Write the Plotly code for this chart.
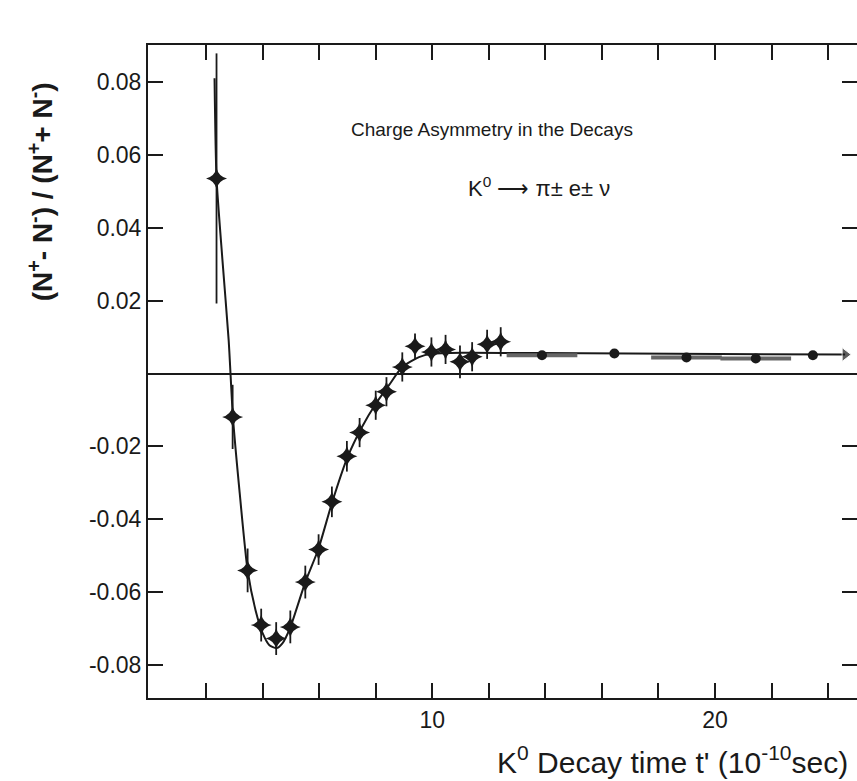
import plotly.graph_objects as go

# ---- data ----
t_pts = [2.37, 2.94, 3.47, 3.95, 4.48, 4.98, 5.51, 5.98, 6.45, 6.98, 7.43,
         8.00, 8.38, 8.94, 9.39, 9.97, 10.47, 10.98, 11.41, 11.94, 12.42]
a_pts = [0.0535, -0.0119, -0.0540, -0.0690, -0.0727, -0.0695, -0.0572, -0.0483,
         -0.0352, -0.0227, -0.0162, -0.0087, -0.0050, 0.0018, 0.0075, 0.0059,
         0.0066, 0.0032, 0.0046, 0.0080, 0.0087]
a_err = [0.0343, 0.0088, 0.0060, 0.0045, 0.0045, 0.0045, 0.0045, 0.0042,
         0.0042, 0.0042, 0.0040, 0.0040, 0.0040, 0.0040, 0.0035, 0.0040,
         0.0040, 0.0045, 0.0040, 0.0040, 0.0040]

t_late = [13.88, 16.44, 18.99, 21.44, 23.46]
a_late = [0.0050, 0.0055, 0.0044, 0.0041, 0.0050]
t_late_bin = [1.25, 0.0, 1.25, 1.25, 0.0]

t_fit = [2.30, 2.37, 2.58, 2.80, 2.95, 3.18, 3.47, 3.75, 4.00, 4.24, 4.49,
         4.70, 4.98, 5.51, 5.97, 6.46, 6.99, 7.49, 8.02, 8.47, 8.93, 9.53,
         9.99, 11.05, 13.76, 24.60]
a_fit = [0.0810, 0.0536, 0.0311, 0.0091, -0.0119, -0.0320, -0.0540, -0.0649,
         -0.0712, -0.0745, -0.0753, -0.0740, -0.0696, -0.0572, -0.0482,
         -0.0353, -0.0232, -0.0150, -0.0081, -0.0032, 0.0017, 0.0045, 0.0054,
         0.0057, 0.0056, 0.0052]

x_ticks = [2, 4, 6, 8, 10, 12, 14, 16, 18, 20, 22, 24]
x_ticktext = ["", "", "", "", "10", "", "", "", "", "20", "", ""]
y_ticks = [0.08, 0.06, 0.04, 0.02, 0.0, -0.02, -0.04, -0.06, -0.08]
y_ticktext = ["0.08", "0.06", "0.04", "0.02", "", "-0.02", "-0.04", "-0.06", "-0.08"]

FONT = "Liberation Sans, Arial, Helvetica, sans-serif"
INK = "#1a1a1a"

fig = go.Figure()

# fit curve with arrow head at the end
n = len(t_fit)
fig.add_trace(go.Scatter(
    x=t_fit, y=a_fit, mode="lines+markers",
    line=dict(color=INK, width=2, shape="spline", smoothing=0.6),
    marker=dict(symbol=["circle"] * (n - 1) + ["triangle-right"],
                size=[0] * (n - 1) + [12], color=INK),
    cliponaxis=False, hoverinfo="skip", showlegend=False))

# late data points with bin bars
fig.add_trace(go.Scatter(
    x=t_late, y=a_late, mode="markers",
    marker=dict(symbol="circle", size=10, color=INK),
    error_x=dict(type="data", array=t_late_bin, color="#666666", thickness=4, width=0),
    showlegend=False))

# early data points
fig.add_trace(go.Scatter(
    x=t_pts, y=a_pts, mode="markers",
    marker=dict(symbol="star-diamond", size=15, color=INK),
    error_y=dict(type="data", array=a_err, color=INK, thickness=1.8, width=0),
    showlegend=False))

fig.update_layout(
    width=859, height=781,
    margin=dict(l=148, r=0, t=45, b=83),
    paper_bgcolor="white", plot_bgcolor="white",
    font=dict(family=FONT, color=INK, size=22),
    xaxis=dict(range=[-0.053, 25.02], tickvals=x_ticks, ticktext=x_ticktext,
               ticks="inside", ticklen=15, tickwidth=1.5, tickcolor=INK,
               showline=True, linecolor=INK, linewidth=2, mirror="ticks",
               showgrid=False, zeroline=False,
               tickfont=dict(family=FONT, size=23)),
    yaxis=dict(range=[-0.0890, 0.0901], tickvals=y_ticks, ticktext=y_ticktext,
               ticks="inside", ticklen=15, tickwidth=1.5, tickcolor=INK,
               showline=True, linecolor=INK, linewidth=2, mirror="ticks",
               showgrid=False, zeroline=True, zerolinecolor=INK, zerolinewidth=2,
               tickfont=dict(family=FONT, size=23)),
)

# paper coords: x = (px - 148) / 711, y = (698 - py) / 653
fig.add_annotation(text="Charge Asymmetry in the Decays", xref="paper", yref="paper",
                   x=0.485, y=0.870, xanchor="center", yanchor="middle", showarrow=False,
                   font=dict(family=FONT, size=19))
fig.add_annotation(text="K<sup>0</sup> \u27f6 \u03c0\u00b1 e\u00b1 \u03bd",
                   xref="paper", yref="paper", x=0.552, y=0.783,
                   xanchor="center", yanchor="middle", showarrow=False,
                   font=dict(family=FONT, size=22))
fig.add_annotation(text="K<sup>0</sup> Decay time t' (10<sup>-10</sup>sec)",
                   xref="paper", yref="paper", x=0.990, y=-0.095,
                   xanchor="right", yanchor="middle", showarrow=False,
                   font=dict(family=FONT, size=30))
fig.add_annotation(text="<b>(N<sup>+</sup>- N<sup>-</sup>) / (N<sup>+</sup>+ N<sup>-</sup>)</b>",
                   xref="paper", yref="paper", x=-0.151, y=0.776, textangle=-90,
                   xanchor="center", yanchor="middle",
                   showarrow=False, font=dict(family=FONT, size=28))

fig.write_html("out.html",
               config={"displayModeBar": False},
               post_script="document.body.style.margin='0';"
                           "document.body.style.overflow='hidden';"
                           "document.documentElement.style.overflow='hidden';")
